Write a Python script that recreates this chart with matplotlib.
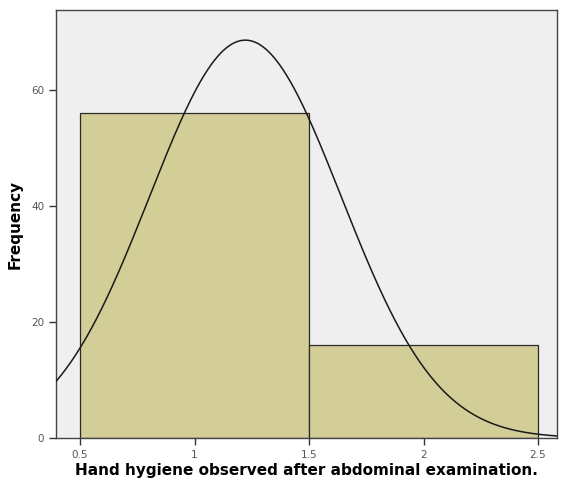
import numpy as np
import matplotlib.pyplot as plt

# histogram bins and counts
bin_edges = [0.5, 1.5, 2.5]
counts = [56, 16]
# normal curve parameters (SPSS fit)
mean = 1.222
sd = 0.4187
n_total = 72
bin_width = 1.0

fig = plt.figure(figsize=(5.61, 4.95), dpi=100)
ax = fig.add_axes([0.0998, 0.1152, 0.8931, 0.8646])
ax.set_facecolor('#efefef')

ax.bar(bin_edges[:-1], counts, width=np.diff(bin_edges), align='edge',
       color='#d3cd98', edgecolor='#2a2a2a', linewidth=0.9, zorder=2)

x = np.linspace(0.395, 2.583, 400)
y = n_total * bin_width / (sd * np.sqrt(2 * np.pi)) * np.exp(-0.5 * ((x - mean) / sd) ** 2)
ax.plot(x, y, color='#1a1a1a', linewidth=1.1, zorder=3)

ax.set_xlim(0.395, 2.583)
ax.set_ylim(0, 73.8)
ax.set_xticks([0.5, 1, 1.5, 2, 2.5])
ax.set_xticklabels(['0.5', '1', '1.5', '2', '2.5'])
ax.set_yticks([0, 20, 40, 60])
ax.tick_params(direction='out', length=5, width=1, labelsize=7.5,
               labelcolor='#555555', color='#333333')

for s in ax.spines.values():
    s.set_color('#444444')
    s.set_linewidth(1.0)

ax.set_xlabel('Hand hygiene observed after abdominal examination.',
              fontsize=11, fontweight='bold', labelpad=2)
ax.set_ylabel('Frequency', fontsize=11, fontweight='bold', labelpad=6)

fig.savefig('out.png', dpi=100)
